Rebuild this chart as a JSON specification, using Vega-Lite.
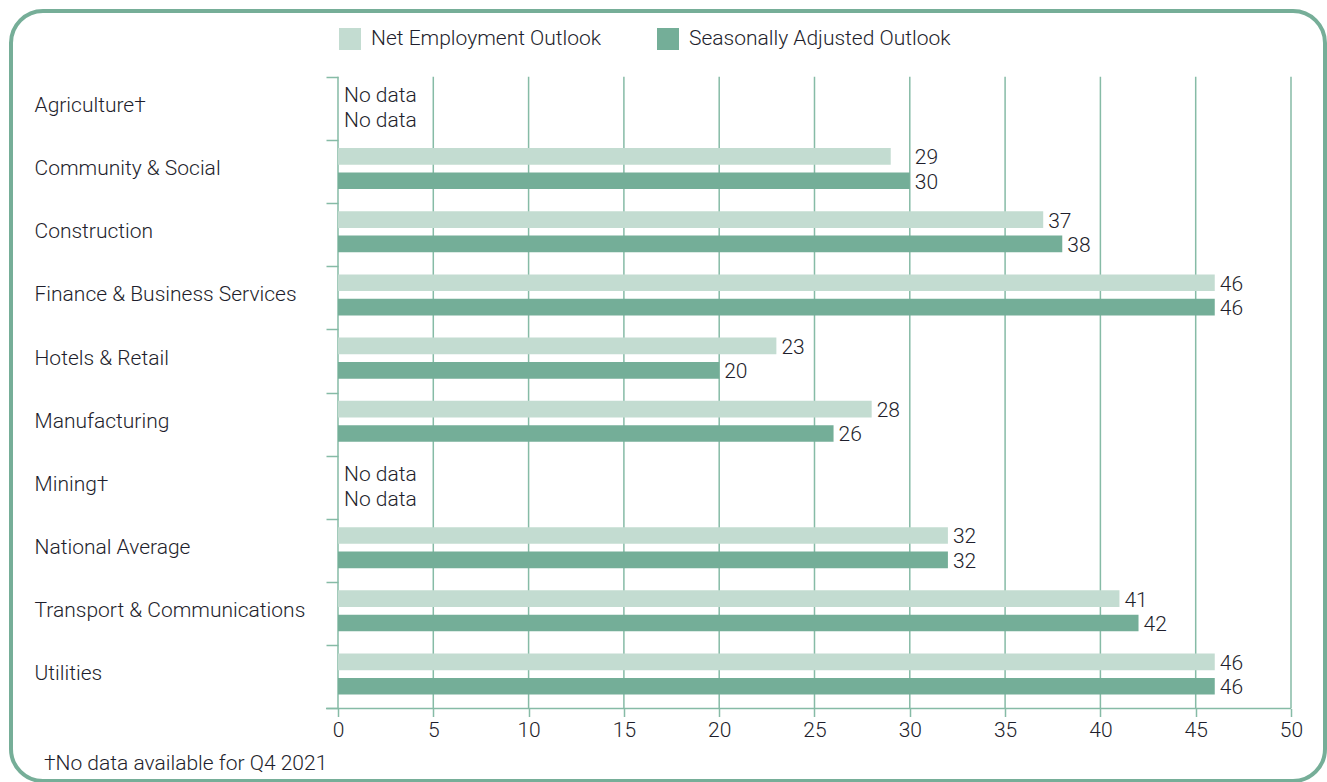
{
  "$schema": "https://vega.github.io/schema/vega-lite/v6.json",
  "width": 1314,
  "height": 770,
  "autosize": {"type": "none"},
  "padding": {"left": 11, "top": 11, "right": 2, "bottom": 1},
  "background": "white",
  "title": {
    "text": "†No data available for Q4 2021",
    "orient": "bottom",
    "anchor": "start",
    "frame": "group",
    "offset": -28,
    "dx": 33,
    "fontSize": 21,
    "font": "Roboto",
    "fontWeight": 300,
    "color": "#1e1e2c"
  },
  "config": {
    "view": {"stroke": "#76ae98", "strokeWidth": 4, "cornerRadius": 32},
    "font": "Roboto"
  },
  "resolve": {"axis": {"x": "independent", "y": "independent"}},
  "data": {
    "values": [
      {"sector": "Agriculture†", "series": "Net Employment Outlook", "value": null},
      {"sector": "Agriculture†", "series": "Seasonally Adjusted Outlook", "value": null},
      {"sector": "Community & Social", "series": "Net Employment Outlook", "value": 29},
      {"sector": "Community & Social", "series": "Seasonally Adjusted Outlook", "value": 30},
      {"sector": "Construction", "series": "Net Employment Outlook", "value": 37},
      {"sector": "Construction", "series": "Seasonally Adjusted Outlook", "value": 38},
      {"sector": "Finance & Business Services", "series": "Net Employment Outlook", "value": 46},
      {"sector": "Finance & Business Services", "series": "Seasonally Adjusted Outlook", "value": 46},
      {"sector": "Hotels & Retail", "series": "Net Employment Outlook", "value": 23},
      {"sector": "Hotels & Retail", "series": "Seasonally Adjusted Outlook", "value": 20},
      {"sector": "Manufacturing", "series": "Net Employment Outlook", "value": 28},
      {"sector": "Manufacturing", "series": "Seasonally Adjusted Outlook", "value": 26},
      {"sector": "Mining†", "series": "Net Employment Outlook", "value": null},
      {"sector": "Mining†", "series": "Seasonally Adjusted Outlook", "value": null},
      {"sector": "National Average", "series": "Net Employment Outlook", "value": 32},
      {"sector": "National Average", "series": "Seasonally Adjusted Outlook", "value": 32},
      {"sector": "Transport & Communications", "series": "Net Employment Outlook", "value": 41},
      {"sector": "Transport & Communications", "series": "Seasonally Adjusted Outlook", "value": 42},
      {"sector": "Utilities", "series": "Net Employment Outlook", "value": 46},
      {"sector": "Utilities", "series": "Seasonally Adjusted Outlook", "value": 46}
    ]
  },
  "layer": [
    {
      "data": {"values": [{"v": 0}, {"v": 5}, {"v": 10}, {"v": 15}, {"v": 20}, {"v": 25}, {"v": 30}, {"v": 35}, {"v": 40}, {"v": 45}, {"v": 50}]},
      "mark": {"type": "rule", "color": "#86bba6", "strokeWidth": 1.5},
      "encoding": {
        "x": {"field": "v", "type": "quantitative", "axis": null,
              "scale": {"domain": [-17.156, 51.784], "nice": false, "zero": false}},
        "y": {"datum": "Agriculture†", "type": "nominal", "bandPosition": 0, "axis": null,
              "scale": {"domain": ["Agriculture†", "Community & Social", "Construction", "Finance & Business Services", "Hotels & Retail", "Manufacturing", "Mining†", "National Average", "Transport & Communications", "Utilities"], "range": [65.7, 697.5], "paddingInner": 0, "paddingOuter": 0}},
        "y2": {"datum": "Utilities", "bandPosition": 1}
      }
    },
    {
      "data": {"values": [{"start": -0.63, "end": 50}]},
      "mark": {"type": "rule", "color": "#86bba6", "strokeWidth": 1.5},
      "encoding": {
        "x": {"field": "start", "type": "quantitative", "axis": null,
              "scale": {"domain": [-17.156, 51.784], "nice": false, "zero": false}},
        "x2": {"field": "end"},
        "y": {"datum": "Utilities", "type": "nominal", "bandPosition": 1, "axis": null,
              "scale": {"domain": ["Agriculture†", "Community & Social", "Construction", "Finance & Business Services", "Hotels & Retail", "Manufacturing", "Mining†", "National Average", "Transport & Communications", "Utilities"], "range": [65.7, 697.5], "paddingInner": 0, "paddingOuter": 0}}
      }
    },
    {
      "mark": {"type": "bar"},
      "encoding": {
        "y": {
          "field": "sector", "type": "nominal", "sort": null,
          "scale": {"domain": ["Agriculture†", "Community & Social", "Construction", "Finance & Business Services", "Hotels & Retail", "Manufacturing", "Mining†", "National Average", "Transport & Communications", "Utilities"], "range": [65.7, 697.5], "paddingInner": 0, "paddingOuter": 0},
          "axis": {
            "orient": "left", "offset": -327, "domain": false, "grid": false,
            "ticks": true, "tickBand": "extent", "tickSize": 12, "tickColor": "#86bba6", "tickWidth": 1.5,
            "labelAlign": "left", "labelBaseline": "middle", "labelPadding": 292, "labelLimit": 320,
            "labelFontSize": 21, "labelFont": "Roboto", "labelFontWeight": 300, "labelColor": "#1e1e2c",
            "labelOffset": -3, "title": null
          }
        },
        "yOffset": {
          "field": "series", "type": "nominal", "sort": null,
          "scale": {"domain": ["Net Employment Outlook", "Seasonally Adjusted Outlook"], "paddingInner": 0.316, "paddingOuter": 0.455, "align": 0.37}
        },
        "x": {
          "field": "value", "type": "quantitative",
          "scale": {"domain": [-17.156, 51.784], "nice": false, "zero": false},
          "axis": {
            "orient": "bottom", "offset": -72.5, "values": [0, 5, 10, 15, 20, 25, 30, 35, 40, 45, 50],
            "domain": false, "grid": false, "tickSize": 8, "tickColor": "#86bba6", "tickWidth": 1.5,
            "labelFontSize": 21, "labelFont": "Roboto", "labelFontWeight": 300, "labelColor": "#1e1e2c",
            "labelPadding": 3, "labelFlush": false, "title": null
          }
        },
        "color": {
          "field": "series", "type": "nominal",
          "scale": {"domain": ["Net Employment Outlook", "Seasonally Adjusted Outlook"], "range": ["#c3dcd1", "#74ae98"]},
          "legend": {
            "title": null, "orient": "none", "direction": "horizontal", "legendX": 328, "legendY": 17,
            "padding": 0, "symbolType": "square", "symbolSize": 484, "symbolStrokeWidth": 0, "symbolOpacity": 1,
            "labelFontSize": 21, "labelFont": "Roboto", "labelFontWeight": 300, "labelColor": "#1e1e2c",
            "labelOffset": 10, "columnPadding": 55, "labelLimit": 400
          }
        }
      }
    },
    {
      "transform": [{"filter": "datum.value != null && datum.value != 29"}],
      "mark": {"type": "text", "align": "left", "baseline": "middle", "dx": 5, "dy": 2, "fontSize": 21, "font": "Roboto", "fontWeight": 300, "color": "#1e1e2c"},
      "encoding": {
        "y": {"field": "sector", "type": "nominal", "sort": null, "axis": null},
        "yOffset": {"field": "series", "type": "nominal", "sort": null},
        "x": {"field": "value", "type": "quantitative", "axis": null},
        "text": {"field": "value", "type": "quantitative"}
      }
    },
    {
      "transform": [{"filter": "datum.value == 29"}],
      "mark": {"type": "text", "align": "left", "baseline": "middle", "dx": 24, "dy": 2, "fontSize": 21, "font": "Roboto", "fontWeight": 300, "color": "#1e1e2c"},
      "encoding": {
        "y": {"field": "sector", "type": "nominal", "sort": null, "axis": null},
        "yOffset": {"field": "series", "type": "nominal", "sort": null},
        "x": {"field": "value", "type": "quantitative", "axis": null},
        "text": {"field": "value", "type": "quantitative"}
      }
    },
    {
      "transform": [{"filter": "datum.value == null"}],
      "mark": {"type": "text", "align": "left", "baseline": "middle", "dx": 6, "dy": 3, "fontSize": 21, "font": "Roboto", "fontWeight": 300, "color": "#1e1e2c"},
      "encoding": {
        "y": {"field": "sector", "type": "nominal", "sort": null, "axis": null},
        "yOffset": {"field": "series", "type": "nominal", "sort": null},
        "x": {"datum": 0, "type": "quantitative", "axis": null},
        "text": {"value": "No data"}
      }
    }
  ]
}
